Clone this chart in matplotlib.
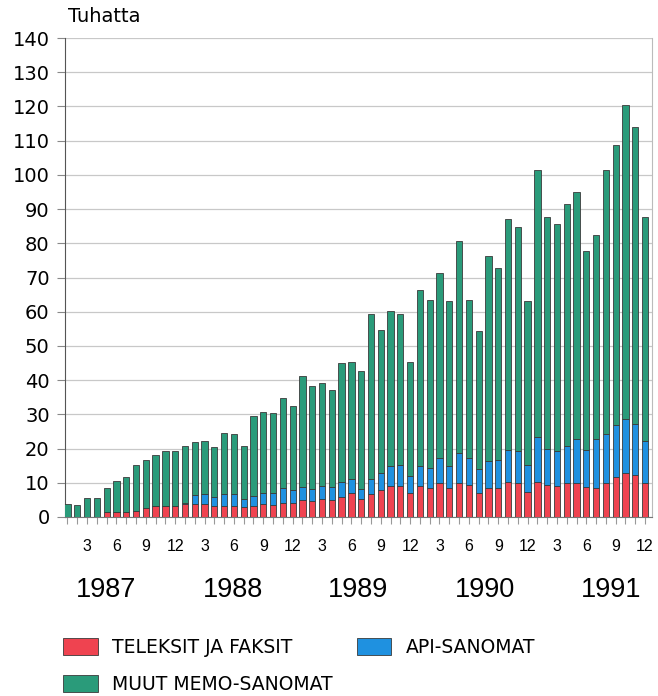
import numpy as np
import matplotlib.pyplot as plt
from matplotlib.transforms import blended_transform_factory

plt.rcParams['font.family'] = ['Liberation Sans', 'DejaVu Sans']

# kuukausittaiset sanomamäärät 1/1987 - 12/1991, tuhansia
teleksit = [0, 0, 0, 0, 1.5, 1.5, 1.5, 1.8, 2.5, 3.2, 3.2, 3.3,
            3.8, 3.8, 3.9, 3.2, 3.3, 3.3, 2.8, 3.3, 3.9, 3.4, 4.2, 4.1,
            4.9, 4.7, 5.2, 5.1, 5.9, 6.9, 5.2, 6.6, 8.0, 9.0, 9.2, 7.1,
            9.1, 8.6, 9.8, 8.4, 9.8, 9.3, 7.1, 8.5, 8.5, 10.3, 9.8, 7.2,
            10.3, 9.3, 9.0, 10.0, 9.8, 8.8, 8.6, 9.8, 11.8, 12.9, 12.2, 10.0]
api = [0, 0, 0, 0, 0, 0, 0, 0, 0, 0, 0, 0,
       0.3, 2.6, 2.7, 2.7, 3.4, 3.3, 2.6, 2.9, 3.2, 3.7, 4.3, 3.9,
       3.9, 3.4, 4.0, 3.7, 4.4, 4.1, 3.1, 4.4, 4.9, 5.9, 6.1, 4.8,
       5.8, 5.6, 7.5, 6.5, 8.8, 7.8, 6.8, 7.8, 8.3, 9.3, 9.4, 8.0,
       13.1, 10.5, 10.2, 10.7, 12.9, 10.9, 14.3, 14.6, 15.2, 15.8, 14.9, 12.2]
muut = [3.9, 3.4, 5.5, 5.5, 7.1, 9.0, 10.2, 13.5, 14.3, 14.8, 16.0, 16.1,
        16.6, 15.6, 15.7, 14.5, 17.8, 17.7, 15.4, 23.2, 23.7, 23.4, 26.3, 24.3,
        32.5, 30.1, 30.0, 28.4, 34.8, 34.4, 34.3, 48.4, 41.7, 45.4, 44.1, 33.5,
        51.5, 49.1, 54.0, 48.2, 62.0, 46.4, 40.5, 60.1, 56.0, 67.5, 65.6, 47.9,
        78.0, 68.0, 66.3, 70.9, 72.4, 57.9, 59.6, 77.1, 81.7, 91.6, 86.9, 65.4]
vuodet = ['1987', '1988', '1989', '1990', '1991']
vuosi_x = [4.9, 17.9, 30.7, 43.7, 56.5]
nimet = ['TELEKSIT JA FAKSIT', 'API-SANOMAT', 'MUUT MEMO-SANOMAT']

punainen = '#ef4350'
sininen = '#1f91e0'
vihrea = '#2a9b7a'

kk = np.arange(1, len(muut) + 1)
t = np.array(teleksit)
a = np.array(api)
m = np.array(muut)

fig = plt.figure(figsize=(6.58, 6.96), dpi=100)
ax = fig.add_axes([65 / 658, 1 - 517 / 696, 587 / 658, 479 / 696])

ek = dict(width=0.64, edgecolor='#3a3a3a', linewidth=0.6, zorder=3)
b1 = ax.bar(kk, t, color=punainen, **ek)
b2 = ax.bar(kk, a, bottom=t, color=sininen, **ek)
b3 = ax.bar(kk, m, bottom=t + a, color=vihrea, **ek)

ax.set_xlim(0.745, 60.71)
ax.set_ylim(0, 140)
ax.set_yticks(range(0, 141, 10))
ax.grid(axis='y', color='#c8c8c8', linewidth=0.9, zorder=0)
ax.tick_params(axis='y', length=6, width=0.8, color='#888888', labelsize=14, pad=5)
for lab in ax.get_yticklabels():
    lab.set_family('DejaVu Sans')

ax.set_xticks(kk)
ax.set_xticklabels([str(k % 12 if k % 12 else 12) if k % 3 == 0 else '' for k in kk])
ax.tick_params(axis='x', length=5, width=0.8, color='#999999', labelsize=11.5, pad=11)

ax.spines['top'].set_visible(False)
ax.spines['right'].set_color('#bbbbbb')
ax.spines['left'].set_color('#555555')
ax.spines['bottom'].set_color('#777777')

ax.text(0.005, 1.025, 'Tuhatta', transform=ax.transAxes, fontsize=14,
        family='DejaVu Sans', va='bottom', ha='left')

tr = blended_transform_factory(ax.transData, fig.transFigure)
for x, v in zip(vuosi_x, vuodet):
    ax.text(x, 1 - 590 / 696, v, transform=tr, fontsize=19.5, ha='center', va='center')

fig.legend([b1, b3, b2], [nimet[0], nimet[2], nimet[1]], ncol=2, frameon=False,
           loc='upper left', bbox_to_anchor=(63 / 658, 1 - 638 / 696),
           prop={'family': 'DejaVu Sans', 'size': 13.5},
           handlelength=1.85, handleheight=1.05, handletextpad=0.75,
           columnspacing=1.3, labelspacing=0.95, borderpad=0, borderaxespad=0)

fig.savefig('out.png', dpi=100)
